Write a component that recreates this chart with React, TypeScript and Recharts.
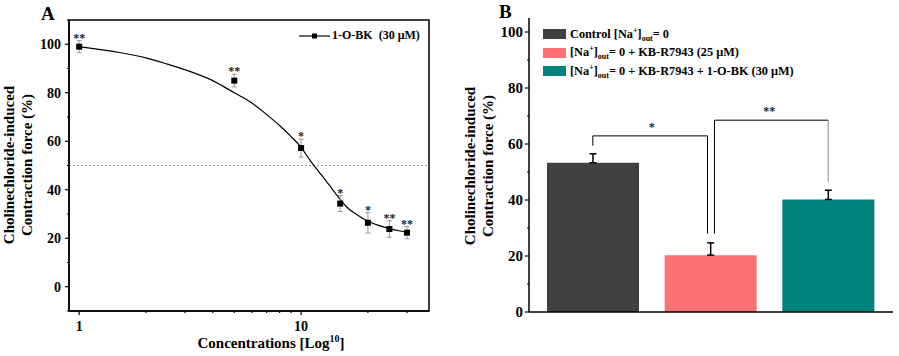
import {
  ComposedChart,
  Line,
  Scatter,
  XAxis,
  YAxis,
  ErrorBar,
  ReferenceLine,
  ReferenceArea,
  Legend,
  BarChart,
  Bar,
  Cell,
} from "recharts";

const SERIF = '"Liberation Serif", "Times New Roman", serif';

// ---- panel A: dose response ----
const curveX = [1, 1.25, 1.5, 2, 2.5, 3, 4, 5, 6, 7, 8, 9, 10, 11, 12, 13, 14, 15, 16, 18, 20, 22, 25, 28, 30];
const curveY = [99, 97.8, 96.7, 94.4, 91.8, 89.5, 85, 80, 75.8, 71, 66.5, 62, 57.5, 52, 47.5, 43.5, 39.5, 36, 33, 29.5, 27, 25.5, 24, 23, 22.5];

const concX = [1, 5, 10, 15, 20, 25, 30];
const forceY = [99, 85, 57.2, 34.3, 26.4, 23.8, 22.3];
const forceErr = [2.5, 2.6, 3.7, 3.3, 4.2, 3.4, 2.5];
const forceSig = ["**", "**", "*", "*", "*", "**", "**"];

const xTicksA = [1, 2, 3, 4, 5, 6, 7, 8, 9, 10, 20, 30];
const yTicksA = [-10, 0, 10, 20, 30, 40, 50, 60, 70, 80, 90, 100, 110];

// ---- panel B: bars ----
const groups = ["Control", "KB-R7943", "KB-R7943 + 1-O-BK"];
const groupMean = [53.3, 20.3, 40.2];
const groupErr = [3.2, 4.4, 3.3];
const groupColors = ["#404040", "#FB7070", "#00837F"];
const yTicksB = [0, 10, 20, 30, 40, 50, 60, 70, 80, 90, 100];

// significance brackets (group index from/to, heights in %)
const bracketFrom = [0, 1];
const bracketTo = [1, 2];
const bracketTop = [62.9, 68.5];
const bracketLeftEnd = [59.4, 28];
const bracketRightEnd = [28, 46.5];
const bracketText = ["*", "**"];

const curveData = curveX.map((x, i) => ({ x, y: curveY[i] }));
const pointData = concX.map((x, i) => ({ x, y: forceY[i], err: forceErr[i], sig: forceSig[i] }));
const barData = groups.map((name, i) => ({ name, value: groupMean[i], err: [0, groupErr[i]] }));

const A_H = 356;
const A_TOP = 20;
const A_XH = 45;
const pxPerUnitA = (A_H - A_TOP - A_XH) / 120;

const YTickA = ({ x, y, payload }: any) => {
  const major = payload.value % 20 === 0;
  return (
    <g>
      <line x1={x} x2={x - (major ? 4 : 2)} y1={y} y2={y} stroke="#000" strokeWidth={1.2} />
      {major && (
        <text x={x - 8} y={y} dy="0.34em" textAnchor="end" fontFamily={SERIF} fontWeight="bold" fontSize={14} fill="#000">
          {payload.value}
        </text>
      )}
    </g>
  );
};

const XTickA = ({ x, y, payload }: any) => {
  const major = payload.value === 1 || payload.value === 10;
  return (
    <g>
      <line x1={x} x2={x} y1={y} y2={y + (major ? 4 : 2)} stroke="#000" strokeWidth={1.2} />
      {major && (
        <text x={x} y={y + 20} textAnchor="middle" fontFamily={SERIF} fontWeight="bold" fontSize={14} fill="#000">
          {payload.value}
        </text>
      )}
    </g>
  );
};

const YTickB = ({ x, y, payload }: any) => {
  const major = payload.value % 20 === 0;
  return (
    <g>
      <line x1={x} x2={x - (major ? 4 : 2)} y1={y} y2={y} stroke="#000" strokeWidth={1.2} />
      {major && (
        <text x={x - 6} y={y} dy="0.34em" textAnchor="end" fontFamily={SERIF} fontWeight="bold" fontSize={15} fill="#000">
          {payload.value}
        </text>
      )}
    </g>
  );
};

const squareWithStar = (props: any) => {
  const { cx, cy, payload } = props;
  const errPx = payload.err * pxPerUnitA;
  return (
    <g>
      <rect x={cx - 3} y={cy - 3} width={6} height={6} fill="#000" />
      <text x={cx} y={cy - errPx + 1} textAnchor="middle" fontFamily={SERIF} fontWeight="bold" fontSize={12} fill="#222">
        {payload.sig}
      </text>
    </g>
  );
};

const shifted = (dx1: number, dx2: number, stroke = "#000") => (p: any) => (
  <line x1={p.x1 + dx1} y1={p.y1} x2={p.x2 + dx2} y2={p.y2} stroke={stroke} strokeWidth={1} />
);

const VTitle = ({ cx, cy, lines }: { cx: number; cy: number; lines: string[] }) => (
  <div
    style={{
      position: "absolute",
      left: cx,
      top: cy,
      transform: "translate(-50%, -50%) rotate(-90deg)",
      whiteSpace: "nowrap",
      textAlign: "center",
      fontFamily: SERIF,
      fontWeight: "bold",
      fontSize: 15,
      lineHeight: "18px",
    }}
  >
    {lines.map((l) => (
      <div key={l}>{l}</div>
    ))}
  </div>
);

const PanelLetter = ({ left, top, text }: { left: number; top: number; text: string }) => (
  <div style={{ position: "absolute", left, top, fontFamily: SERIF, fontWeight: "bold", fontSize: 19, lineHeight: "18px" }}>
    {text}
  </div>
);

const legendA = () => (
  <div style={{ display: "flex", alignItems: "center", fontFamily: SERIF, fontWeight: "bold", fontSize: 12, whiteSpace: "pre" }}>
    <svg width={33} height={10}>
      <line x1={0} x2={31} y1={5} y2={5} stroke="#000" strokeWidth={1.2} />
      <rect x={13} y={2.5} width={5} height={5} fill="#000" />
    </svg>
    <span>1-O-BK  (30 μM)</span>
  </div>
);

const sup = { fontSize: 8, verticalAlign: "super" as const, lineHeight: 0 };
const sub = { fontSize: 8, verticalAlign: "sub" as const, lineHeight: 0 };
const legendLabelsB = [
  <span>Control [Na<span style={sup}>+</span>]<span style={sub}>out</span>= 0</span>,
  <span>[Na<span style={sup}>+</span>]<span style={sub}>out</span>= 0 + KB-R7943 (25 μM)</span>,
  <span>[Na<span style={sup}>+</span>]<span style={sub}>out</span>= 0 + KB-R7943 + 1-O-BK (30 μM)</span>,
];

const legendB = () => (
  <div style={{ fontFamily: SERIF, fontWeight: "bold", fontSize: 12.3 }}>
    {legendLabelsB.map((lab, i) => (
      <div key={i} style={{ display: "flex", alignItems: "center", height: 18.5, whiteSpace: "nowrap" }}>
        <div style={{ width: 23, height: 10, background: groupColors[i], marginRight: 4 }} />
        {lab}
      </div>
    ))}
  </div>
);

export default function App() {
  return (
    <div style={{ position: "absolute", left: 0, top: 0, width: 899, height: 356, background: "#fff" }}>
      <div style={{ position: "absolute", left: 0, top: 0 }}>
        <ComposedChart width={450} height={A_H} margin={{ top: A_TOP, right: 21, bottom: 0, left: 29 }}>
          <XAxis
            dataKey="x"
            type="number"
            scale="log"
            domain={[0.9, 37.7]}
            allowDataOverflow
            ticks={xTicksA}
            interval={0}
            height={A_XH}
            tickSize={0}
            tickMargin={0}
            tick={<XTickA />}
            axisLine={{ stroke: "#000", strokeWidth: 1.5 }}
            label={{
              content: () => (
                <text x={271} y={348} textAnchor="middle" fontFamily={SERIF} fontWeight="bold" fontSize={15} fill="#000">
                  Concentrations [Log
                  <tspan dy={-6} fontSize={10}>10</tspan>
                  <tspan dy={6}>]</tspan>
                </text>
              ),
            }}
          />
          <YAxis
            type="number"
            domain={[-10, 110]}
            ticks={yTicksA}
            interval={0}
            width={40}
            tickSize={0}
            tickMargin={0}
            tick={<YTickA />}
            axisLine={{ stroke: "#000", strokeWidth: 1.5 }}
          />
          <ReferenceArea x1={0.9} x2={37.7} y1={-10} y2={110} fill="none" stroke="#000" strokeWidth={1.5} />
          <ReferenceLine y={50} stroke="#999" strokeDasharray="2 2" strokeWidth={1} />
          <Line data={curveData} dataKey="y" type="monotone" stroke="#000" strokeWidth={1.2} dot={false} isAnimationActive={false} />
          <Scatter data={pointData} dataKey="y" shape={squareWithStar} isAnimationActive={false}>
            <ErrorBar dataKey="err" direction="y" width={2.5} stroke="#999" strokeWidth={1} />
          </Scatter>
          <Legend
            layout="horizontal"
            verticalAlign="middle"
            align="center"
            wrapperStyle={{ top: 28, left: 299, width: 130 }}
            content={legendA}
          />
        </ComposedChart>
      </div>

      <div style={{ position: "absolute", left: 450, top: 0 }}>
        <BarChart width={449} height={356} data={barData} margin={{ top: 18, right: 6, bottom: 0, left: 49 }}>
          <XAxis
            dataKey="name"
            tick={false}
            tickLine={false}
            height={44}
            padding={{ left: 5, right: 6 }}
            axisLine={{ stroke: "#000", strokeWidth: 1.5 }}
          />
          <YAxis
            type="number"
            domain={[0, 105]}
            ticks={yTicksB}
            interval={0}
            width={30}
            tickSize={0}
            tickMargin={0}
            tick={<YTickB />}
            axisLine={{ stroke: "#000", strokeWidth: 1.5 }}
          />
          <Bar dataKey="value" barSize={92} isAnimationActive={false}>
            {barData.map((d, i) => (
              <Cell key={d.name} fill={groupColors[i]} />
            ))}
            <ErrorBar dataKey="err" direction="y" width={3.5} stroke="#000" strokeWidth={1.5} />
          </Bar>
          {bracketTop.map((top, i) => {
            const a = groups[bracketFrom[i]];
            const b = groups[bracketTo[i]];
            const dxA = i === 0 ? 0 : 4;
            const dxB = i === 0 ? -3 : 0;
            return [
              <ReferenceLine key={`l${i}`} segment={[{ x: a, y: bracketLeftEnd[i] }, { x: a, y: top }]} shape={shifted(dxA, dxA)} />,
              <ReferenceLine
                key={`h${i}`}
                segment={[{ x: a, y: top }, { x: b, y: top }]}
                shape={shifted(dxA, dxB)}
                label={{ value: bracketText[i], position: "top", offset: 5, fontFamily: SERIF, fontWeight: "bold", fontSize: 12, fill: "#222" }}
              />,
              <ReferenceLine
                key={`r${i}`}
                segment={[{ x: b, y: top }, { x: b, y: bracketRightEnd[i] }]}
                shape={shifted(dxB, dxB, i === 1 ? "#888" : "#000")}
              />,
            ];
          })}
          <Legend
            layout="horizontal"
            verticalAlign="middle"
            align="center"
            wrapperStyle={{ top: 25, left: 93, width: 300 }}
            content={legendB}
          />
        </BarChart>
      </div>

      <VTitle cx={18} cy={165} lines={["Cholinechloride-induced", "Contraction force (%)"]} />
      <VTitle cx={479} cy={166} lines={["Cholinechloride-induced", "Contraction force (%)"]} />
      <PanelLetter left={41} top={5} text="A" />
      <PanelLetter left={499} top={3} text="B" />
    </div>
  );
}
